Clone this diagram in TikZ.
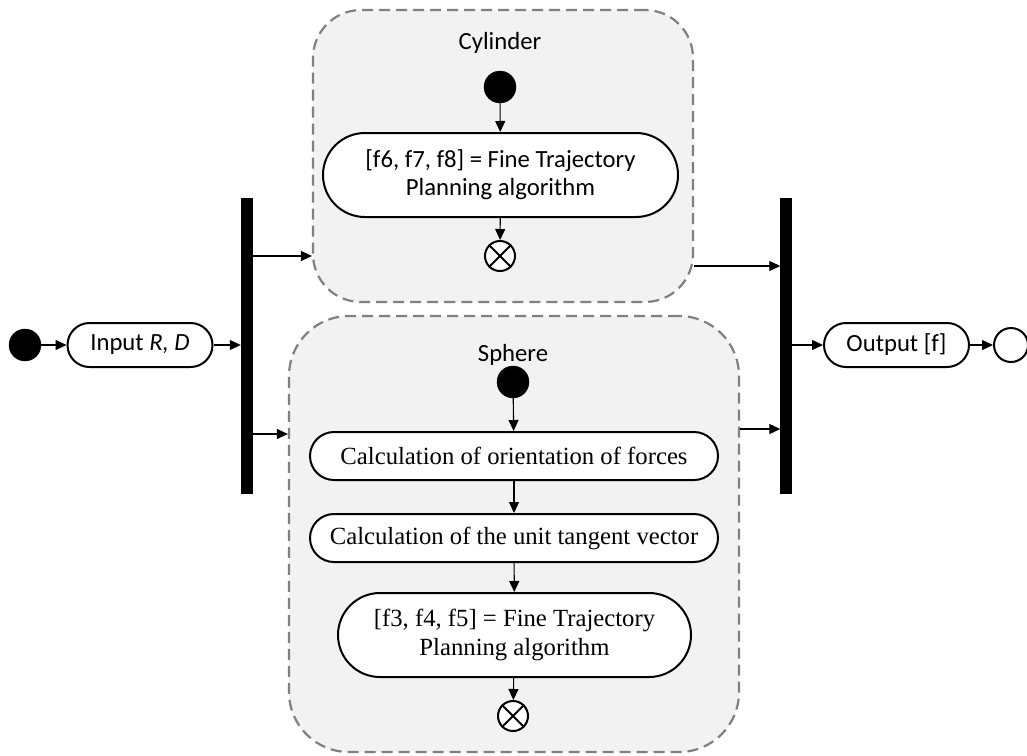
\documentclass[tikz,border=0pt]{standalone}
\usepackage{fontspec}
\setmainfont{Liberation Serif}
\newfontfamily\calib{Carlito}
\usetikzlibrary{arrows.meta}
\begin{document}
\begin{tikzpicture}[x=1pt,y=-1pt,
  arr/.style={-{Triangle[length=11pt,width=10pt]}, line width=1.1pt},
  group/.style={draw=black!50, fill=black!5, dashed, dash pattern=on 11pt off 6pt, line width=2.2pt, rounded corners=48pt, inner sep=0pt},
  grouplabel/.style={font=\calib\fontsize{24.7}{28}\selectfont, inner sep=0pt},
  initdot/.style={circle, fill=black, draw=black, minimum size=32pt, inner sep=0pt},
  finaldot/.style={circle, fill=white, draw=black, line width=2pt, minimum size=30pt, inner sep=0pt},
  enddot/.style={circle, fill=white, draw=black, line width=2pt, minimum size=34pt, inner sep=0pt},
  act/.style={draw=black, fill=white, line width=2pt, rounded corners=22pt, inner sep=0pt, align=center},
  actsf/.style={act, font=\calib\fontsize{24.7}{28}\selectfont},
  acttm/.style={act, font=\fontsize{24.7}{29}\selectfont},
  bar/.style={fill=black, draw=black, inner sep=0pt, minimum width=11pt, minimum height=295pt}
]
\useasboundingbox (0,0) rectangle (1027,755);

% containers
\node[group, minimum width=380pt, minimum height=292pt] (cyl) at (503,156) {};
\node[group, minimum width=450pt, minimum height=436pt, rounded corners=60pt] (sph) at (514,534) {};
\node[grouplabel] (cyllab) at (500,43) {Cylinder};
\node[grouplabel] (sphlab) at (513,355) {Sphere};

% left part
\node[initdot] (start) at (25,345) {};
\node[actsf, minimum width=145pt, minimum height=44pt] (input) at (140,345) {Input \textit{R, D}};
\node[bar] (barL) at (246.5,345.5) {};

% cylinder content
\node[initdot] (cstart) at (500,87) {};
\node[actsf, minimum width=355pt, minimum height=84pt, rounded corners=42pt] (cfine) at (500.5,175) {[f6, f7, f8] = Fine Trajectory\\Planning algorithm};
\node[finaldot] (cend) at (500,256) {};
\draw[line width=2pt] (cend.45) -- (cend.225) (cend.135) -- (cend.315);

% sphere content
\node[initdot] (sstart) at (513,382) {};
\node[acttm, minimum width=408pt, minimum height=48pt, rounded corners=24pt] (orient) at (514,456) {Calculation of orientation of forces};
\node[acttm, minimum width=408pt, minimum height=48pt, rounded corners=24pt] (tangent) at (514,538) {Calculation of the unit tangent vector};
\node[acttm, minimum width=353pt, minimum height=84pt, rounded corners=42pt] (sfine) at (514.5,635) {[f3, f4, f5] = Fine Trajectory\\Planning algorithm};
\node[finaldot] (send) at (513,716) {};
\draw[line width=2pt] (send.45) -- (send.225) (send.135) -- (send.315);

% right part
\node[bar] (barR) at (786,345.5) {};
\node[actsf, minimum width=145pt, minimum height=44pt] (output) at (896.5,345) {Output [f]};
\node[enddot] (fin) at (1011,345) {};

% connectors
\draw[arr] (start) -- (input);
\draw[arr] (input) -- (input -| barL.west);
\coordinate (a1) at (barL.east |- 0,256);
\coordinate (a2) at (cyl.west |- 0,256);
\draw[arr] (a1) -- (a2);
\coordinate (b1) at (barL.east |- 0,434);
\coordinate (b2) at (sph.west |- 0,434);
\draw[arr] (b1) -- (b2);

\draw[arr] (cstart) -- (cfine);
\draw[arr] (cfine) -- (cend);

\draw[arr] (sstart) -- (orient);
\draw[arr] (orient) -- (tangent);
\draw[arr] (tangent) -- (sfine);
\draw[arr] (sfine) -- (send);

\coordinate (c1) at (cyl.east |- 0,266);
\coordinate (c2) at (barR.west |- 0,266);
\draw[arr] (c1) -- (c2);
\coordinate (d1) at (sph.east |- 0,429);
\coordinate (d2) at (barR.west |- 0,429);
\draw[arr] (d1) -- (d2);
\draw[arr] (barR.east |- output) -- (output);
\draw[arr] (output) -- (fin);
\end{tikzpicture}
\end{document}
